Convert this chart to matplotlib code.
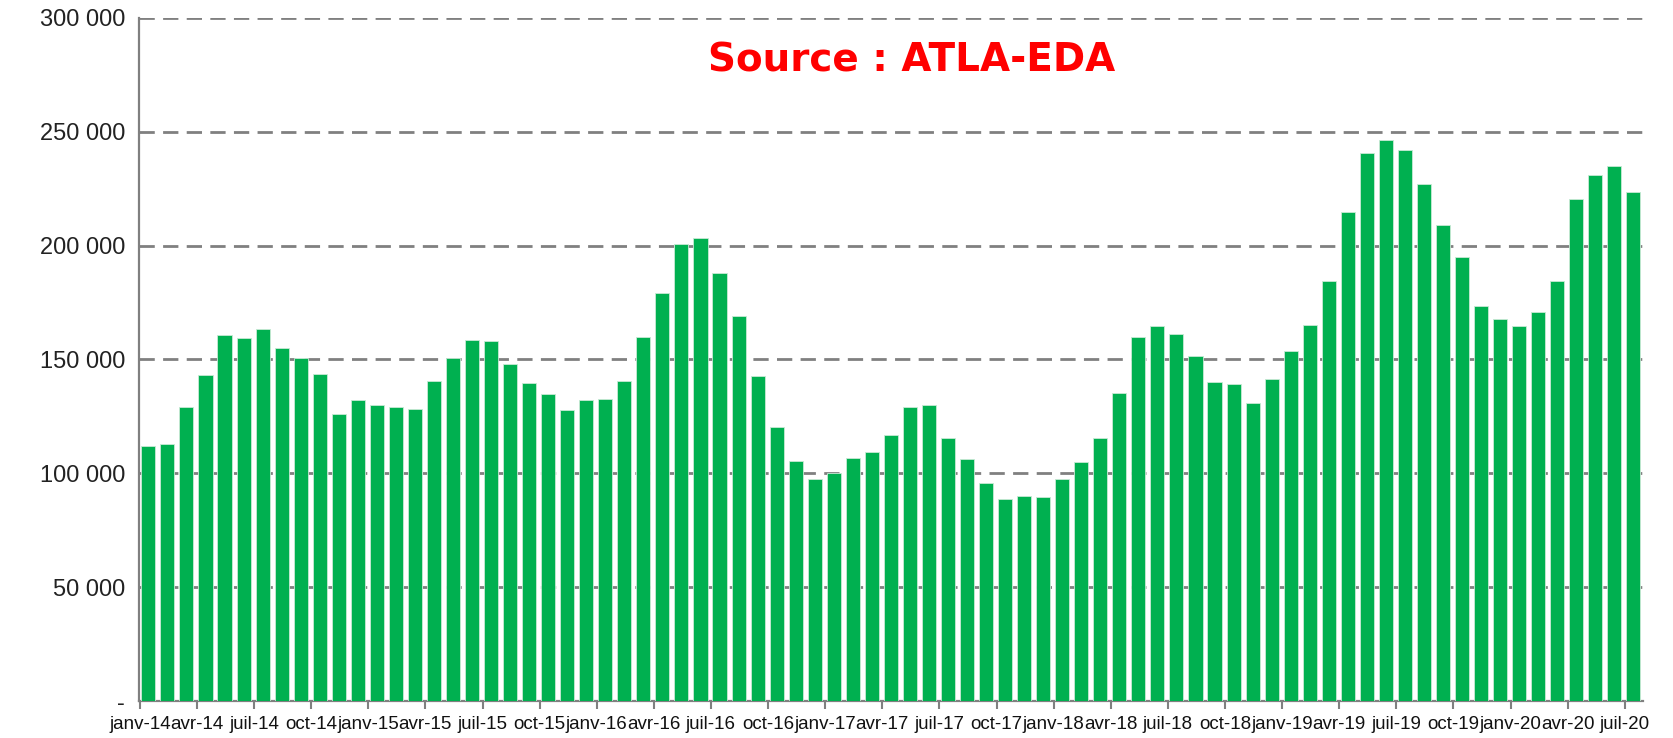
import numpy as np
import matplotlib.pyplot as plt
from matplotlib.ticker import FuncFormatter

# monthly values, janv-14 .. juil-20
months_fr = ['janv', 'févr', 'mars', 'avr', 'mai', 'juin',
             'juil', 'août', 'sept', 'oct', 'nov', 'déc']
years = [14, 15, 16, 17, 18, 19, 20]
values = [
    112000, 113000, 129300, 143000, 160700, 159300, 163500, 155100, 150400, 143400, 126000, 132100,  # 2014
    129800, 128900, 128400, 140600, 150400, 158400, 157900, 148100, 139700, 135000, 128000, 132100,  # 2015
    132600, 140600, 159800, 179000, 200600, 203400, 188000, 169200, 142500, 120400, 105400, 97500,   # 2016
    100300, 106900, 109200, 116700, 128900, 129800, 115300, 106400, 95600, 88600, 90000, 89500,      # 2017
    97500, 105000, 115300, 135400, 159800, 164500, 161200, 151400, 140100, 139200, 130700, 141500,   # 2018
    153700, 165000, 184600, 214600, 240400, 246500, 241800, 226800, 209000, 195000, 173400, 167800,  # 2019
    164500, 171000, 184600, 220300, 231000, 234800, 223500,                                           # 2020
]
labels = [f'{m}-{y}' for y in years for m in months_fr][:len(values)]
yticks = [0, 50000, 100000, 150000, 200000, 250000, 300000]
title = 'Source : ATLA-EDA'

bar_green = '#00B050'
grid_grey = '#808080'

fig = plt.figure(figsize=(16.73, 7.38), dpi=100)
ax = fig.add_axes([0.083, 0.050, 0.899, 0.926])

x = np.arange(len(values))
ax.bar(x, values, width=0.74, color=bar_green, edgecolor='#c8ead5', linewidth=0.6, zorder=3)

ax.set_xlim(-0.5, len(values) - 0.5)
ax.set_ylim(0, 300000)

tick_pos = x[::3]
ax.set_xticks(tick_pos - 0.45)
ax.set_xticklabels([labels[i] for i in tick_pos],
                   family=['Liberation Sans', 'DejaVu Sans'], fontsize=13.5)
ax.tick_params(axis='x', length=6, width=1.5, color=grid_grey, pad=5, labelcolor='#111111')

ax.set_yticks(yticks)
ax.yaxis.set_major_formatter(FuncFormatter(
    lambda v, p: '-' if v == 0 else f'{int(v):,}'.replace(',', ' ')))
for t in ax.get_yticklabels():
    t.set_family(['Liberation Sans', 'DejaVu Sans'])
    t.set_fontsize(17)
ax.tick_params(axis='y', length=0, pad=10, labelcolor='#222222')

ax.yaxis.grid(True, linestyle=(0, (5.5, 3)), color=grid_grey, linewidth=2, zorder=0)
ax.set_axisbelow(True)

for side in ['top', 'right']:
    ax.spines[side].set_visible(False)
for side in ['left', 'bottom']:
    ax.spines[side].set_color(grid_grey)
    ax.spines[side].set_linewidth(1.6)

fig.text(0.545, 0.918, title, color='#FF0000', fontsize=28, fontweight='bold',
         ha='center', va='center', family=['DejaVu Sans'])

fig.savefig('out.png', dpi=100)
